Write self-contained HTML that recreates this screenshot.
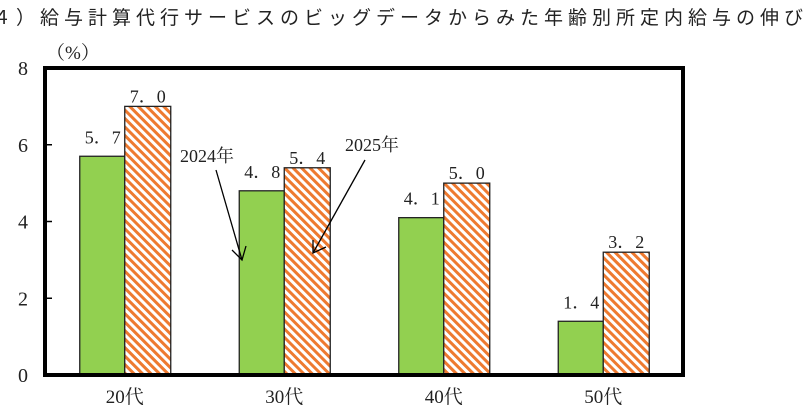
<!DOCTYPE html>
<html><head><meta charset="utf-8"><style>
body{margin:0;background:#fff;width:810px;height:409px;overflow:hidden}
svg text{font-family:"Liberation Serif","Noto Serif CJK JP",serif;fill:#222}
</style></head><body>
<svg id="c" width="810" height="409" xmlns="http://www.w3.org/2000/svg">
<defs><pattern id="hatch" patternUnits="userSpaceOnUse" width="6" height="6" patternTransform="rotate(45)">
<rect width="6" height="6" fill="#fff"/><rect width="6" height="3" fill="#ee7a30"/></pattern></defs>
<text x="-8" y="24" font-size="19" style="font-family:'Noto Sans CJK JP',sans-serif;letter-spacing:5px">４）給与計算代行サービスのビッグデータからみた年齢別所定内給与の伸び</text>
<text x="46" y="59" font-size="19">（%）</text>
<g id="marks"></g>
<rect x="45" y="68" width="638" height="307" fill="none" stroke="#000" stroke-width="4"/>
<g stroke="#000" stroke-width="1.3">
<line x1="216" y1="170" x2="242" y2="260"/><polyline points="232,250 242,260 246,246" fill="none"/>
<line x1="365" y1="160" x2="313" y2="253"/><polyline points="313,240 313,253 326,247" fill="none"/>
</g>
<text x="180" y="162" font-size="18">2024年</text>
<text x="345" y="151" font-size="18">2025年</text>
</svg>
<script>
const categories=["20代","30代","40代","50代"];
const values2024=[5.7,4.8,4.1,1.4];
const values2025=[7.0,5.4,5.0,3.2];
const yTicks=[0,2,4,6,8];
const L=45,R=683,T=68,B=375,yMax=8;
const ns="http://www.w3.org/2000/svg";
const g=document.getElementById('marks');
const y=v=>B-(v/yMax)*(B-T);
const band=(R-L)/categories.length;
const cx=i=>L+band*(i+0.5);
function mk(t,a){const e=document.createElementNS(ns,t);for(const k in a)e.setAttribute(k,a[k]);g.appendChild(e);return e;}
const fmt=v=>v.toFixed(1).replace('.','．');
yTicks.forEach(v=>{
 const t=mk('text',{x:28,y:y(v)+7,'font-size':20,'text-anchor':'end'});t.textContent=v;
 
 
 if(v>0&&v<yMax){const l=mk('line',{x1:L,x2:L+7,y1:y(v),y2:y(v),stroke:'#000','stroke-width':1.5});
 
 }
});
categories.forEach((c,i)=>{
 const x=cx(i);
 const b1=mk('rect',{x:x-45,y:y(values2024[i]),width:45,height:B-y(values2024[i]),fill:'#92d050',stroke:'#222','stroke-width':1.3});
 
 
 const b2=mk('rect',{x:x,y:y(values2025[i]),width:46,height:B-y(values2025[i]),fill:'url(#hatch)',stroke:'#222','stroke-width':1.3});
 
 
 const t1=mk('text',{x:x-22,y:y(values2024[i])-13,'font-size':18,'text-anchor':'middle'});t1.textContent=fmt(values2024[i]);
 
 
 const t2=mk('text',{x:x+23,y:y(values2025[i])-4,'font-size':18,'text-anchor':'middle'});t2.textContent=fmt(values2025[i]);
 
 
 const cl=mk('text',{x:x,y:403,'font-size':19,'text-anchor':'middle'});cl.textContent=c;
 
 
});
</script>
</body></html>
